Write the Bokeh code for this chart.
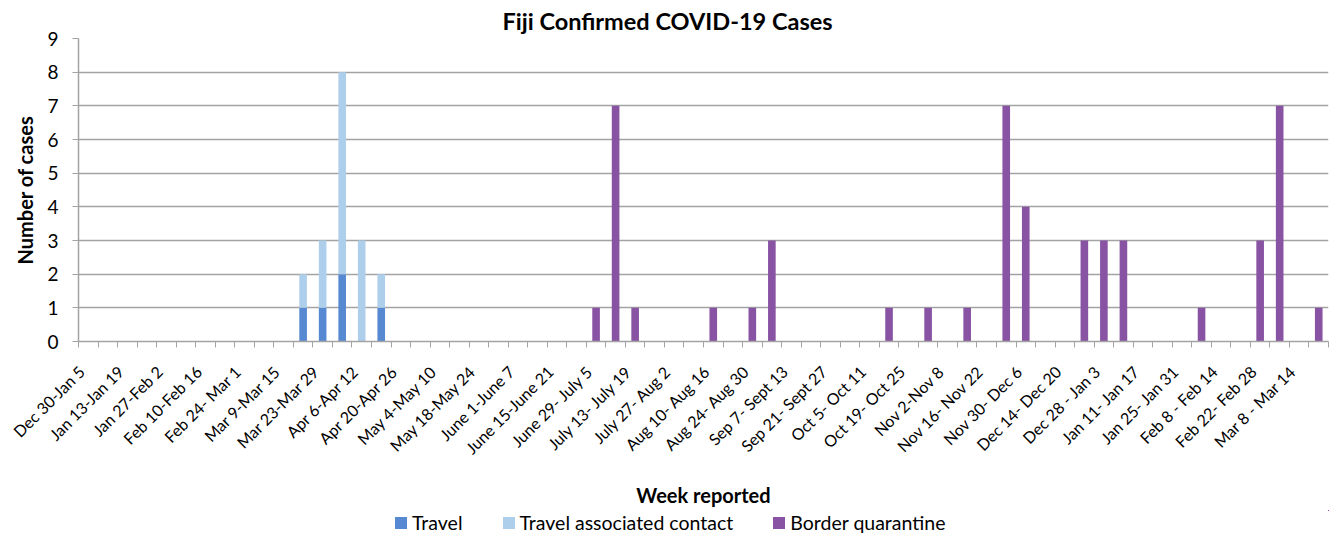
import math
from bokeh.plotting import figure
from bokeh.layouts import column
from bokeh.models import FixedTicker, Legend, LegendItem, Range1d, ColumnDataSource
from bokeh.embed import file_html
from bokeh.resources import INLINE

weeks = [
    "Dec 30-Jan 5", "Jan 6-Jan 12", "Jan 13-Jan 19", "Jan 20-Jan 26",
    "Jan 27-Feb 2", "Feb 3-Feb 9", "Feb 10-Feb 16", "Feb 17-Feb 23",
    "Feb 24- Mar 1", "Mar 2-Mar 8", "Mar 9-Mar 15", "Mar 16-Mar 22",
    "Mar 23-Mar 29", "Mar 30-Apr 5", "Apr 6-Apr 12", "Apr 13-Apr 19",
    "Apr 20-Apr 26", "Apr 27-May 3", "May 4-May 10", "May 11-May 17",
    "May 18-May 24", "May 25-May 31", "June 1-June 7", "June 8-June 14",
    "June 15-June 21", "June 22-June 28", "June 29- July 5", "July 6- July 12",
    "July 13- July 19", "July 20- July 26", "July 27- Aug 2", "Aug 3- Aug 9",
    "Aug 10- Aug 16", "Aug 17- Aug 23", "Aug 24- Aug 30", "Aug 31- Sep 6",
    "Sep 7- Sept 13", "Sep 14- Sept 20", "Sep 21- Sept 27", "Sep 28- Oct 4",
    "Oct 5- Oct 11", "Oct 12- Oct 18", "Oct 19- Oct 25", "Oct 26- Nov 1",
    "Nov 2-Nov 8", "Nov 9-Nov 15", "Nov 16- Nov 22", "Nov 23- Nov 29",
    "Nov 30- Dec 6", "Dec 7- Dec 13", "Dec 14- Dec 20", "Dec 21- Dec 27",
    "Dec 28 - Jan 3", "Jan 4- Jan 10", "Jan 11- Jan 17", "Jan 18- Jan 24",
    "Jan 25- Jan 31", "Feb 1- Feb 7", "Feb 8 - Feb 14", "Feb 15- Feb 21",
    "Feb 22- Feb 28", "Mar 1- Mar 7", "Mar 8 - Mar 14", "Mar 15- Mar 21",
]

travel = [0, 0, 0, 0, 0, 0, 0, 0, 0, 0, 0, 1, 1, 2, 0, 1,
          0, 0, 0, 0, 0, 0, 0, 0, 0, 0, 0, 0, 0, 0, 0, 0,
          0, 0, 0, 0, 0, 0, 0, 0, 0, 0, 0, 0, 0, 0, 0, 0,
          0, 0, 0, 0, 0, 0, 0, 0, 0, 0, 0, 0, 0, 0, 0, 0]
travel_contact = [0, 0, 0, 0, 0, 0, 0, 0, 0, 0, 0, 1, 2, 6, 3, 1,
                  0, 0, 0, 0, 0, 0, 0, 0, 0, 0, 0, 0, 0, 0, 0, 0,
                  0, 0, 0, 0, 0, 0, 0, 0, 0, 0, 0, 0, 0, 0, 0, 0,
                  0, 0, 0, 0, 0, 0, 0, 0, 0, 0, 0, 0, 0, 0, 0, 0]
border = [0, 0, 0, 0, 0, 0, 0, 0, 0, 0, 0, 0, 0, 0, 0, 0,
          0, 0, 0, 0, 0, 0, 0, 0, 0, 0, 1, 7, 1, 0, 0, 0,
          1, 0, 1, 3, 0, 0, 0, 0, 0, 1, 0, 1, 0, 1, 0, 7,
          4, 0, 0, 3, 3, 3, 0, 0, 0, 1, 0, 0, 3, 7, 0, 1]

series_names = ["Travel", "Travel associated contact", "Border quarantine"]
colors = ["#5788D2", "#AECFEB", "#8953A4"]
y_ticks = list(range(0, 10))

n = len(weeks)
xs = [i + 0.5 for i in range(n)]
src = ColumnDataSource(dict(x=xs, travel=travel, contact=travel_contact, border=border))
stackers = ["travel", "contact", "border"]

FONT = "Lato"
GRID = "#a3a3a3"
W = 1332
LEFT = 78

p = figure(width=W, height=510, output_backend="svg", toolbar_location=None,
           x_range=Range1d(0, n), y_range=Range1d(0, 9),
           min_border_left=LEFT, min_border_right=4, min_border_top=38, min_border_bottom=169,
           title="Fiji Confirmed COVID-19 Cases")
p.outline_line_color = None
p.background_fill_color = "white"
p.border_fill_color = "white"

p.title.text_font = FONT
p.title.text_font_size = "23.5px"
p.title.text_font_style = "bold"
p.title.text_color = "black"
p.title.align = "left"
p.title.offset = 424
p.title.standoff = 8

rs = p.vbar_stack(stackers, x="x", width=0.39, color=colors, line_color=None, source=src)

# x axis: a label every second week, a tick mark at every week boundary
label_ticks = [xs[i] - 0.35 for i in range(0, n, 2)]
p.xaxis.ticker = FixedTicker(ticks=label_ticks, minor_ticks=list(range(0, n + 1)))
p.xaxis.major_label_overrides = {label_ticks[k]: weeks[2 * k] for k in range(len(label_ticks))}
p.xaxis.major_label_orientation = math.pi / 4
p.xaxis.major_tick_out = 0
p.xaxis.major_tick_in = 0
p.xaxis.minor_tick_out = 6
p.xaxis.minor_tick_in = 0
p.xaxis.minor_tick_line_color = GRID
p.xaxis.axis_line_color = GRID
p.xaxis.axis_line_width = 1.5
p.xaxis.major_label_text_font = FONT
p.xaxis.major_label_text_font_size = "16px"
p.xaxis.major_label_text_color = "black"
p.xaxis.major_label_standoff = 21
p.xaxis.axis_label = "Week reported"
p.xaxis.axis_label_text_font = FONT
p.xaxis.axis_label_text_font_size = "20px"
p.xaxis.axis_label_text_font_style = "bold"
p.xaxis.axis_label_text_color = "black"
p.xaxis.axis_label_standoff = 16
p.xgrid.grid_line_color = None

# y axis
p.yaxis.ticker = FixedTicker(ticks=y_ticks)
p.yaxis.major_tick_out = 6
p.yaxis.major_tick_in = 0
p.yaxis.minor_tick_line_color = None
p.yaxis.major_tick_line_color = GRID
p.yaxis.axis_line_color = GRID
p.yaxis.axis_line_width = 1.5
p.yaxis.major_label_text_font = FONT
p.yaxis.major_label_text_font_size = "19px"
p.yaxis.major_label_text_color = "black"
p.yaxis.major_label_standoff = 14
p.yaxis.axis_label = "Number of cases"
p.yaxis.axis_label_text_font = FONT
p.yaxis.axis_label_text_font_size = "20px"
p.yaxis.axis_label_text_font_style = "bold"
p.yaxis.axis_label_text_color = "black"
p.yaxis.axis_label_standoff = 7
p.ygrid.grid_line_color = GRID
p.ygrid.grid_line_width = 1.3
p.ygrid.ticker = FixedTicker(ticks=y_ticks)

# legend strip underneath: same series, kept out of view, used only for legend swatches
lg = figure(width=W, height=24, output_backend="svg", toolbar_location=None,
            x_range=Range1d(-200, -199), y_range=Range1d(-200, -199),
            x_axis_location=None, y_axis_location=None,
            min_border_left=0, min_border_right=0, min_border_top=0, min_border_bottom=0)
lg.grid.grid_line_color = None
lg.outline_line_color = None
lg.background_fill_color = "white"
lg.border_fill_color = "white"
handles = lg.vbar_stack(stackers, x="x", width=0.39, color=colors, line_color=None, source=src)
legend = Legend(items=[LegendItem(label=series_names[k], renderers=[handles[k]]) for k in range(3)],
                orientation="horizontal", location=(393 - LEFT, 0),
                label_text_font=FONT, label_text_font_size="19.5px", label_text_color="black",
                glyph_width=15, glyph_height=15, label_standoff=4, spacing=38,
                label_height=20,
                border_line_color=None, background_fill_alpha=0, padding=0, margin=0)
lg.add_layout(legend, "center")

layout = column(p, lg, spacing=0)
open("out.html", "w").write(file_html(layout, INLINE))
